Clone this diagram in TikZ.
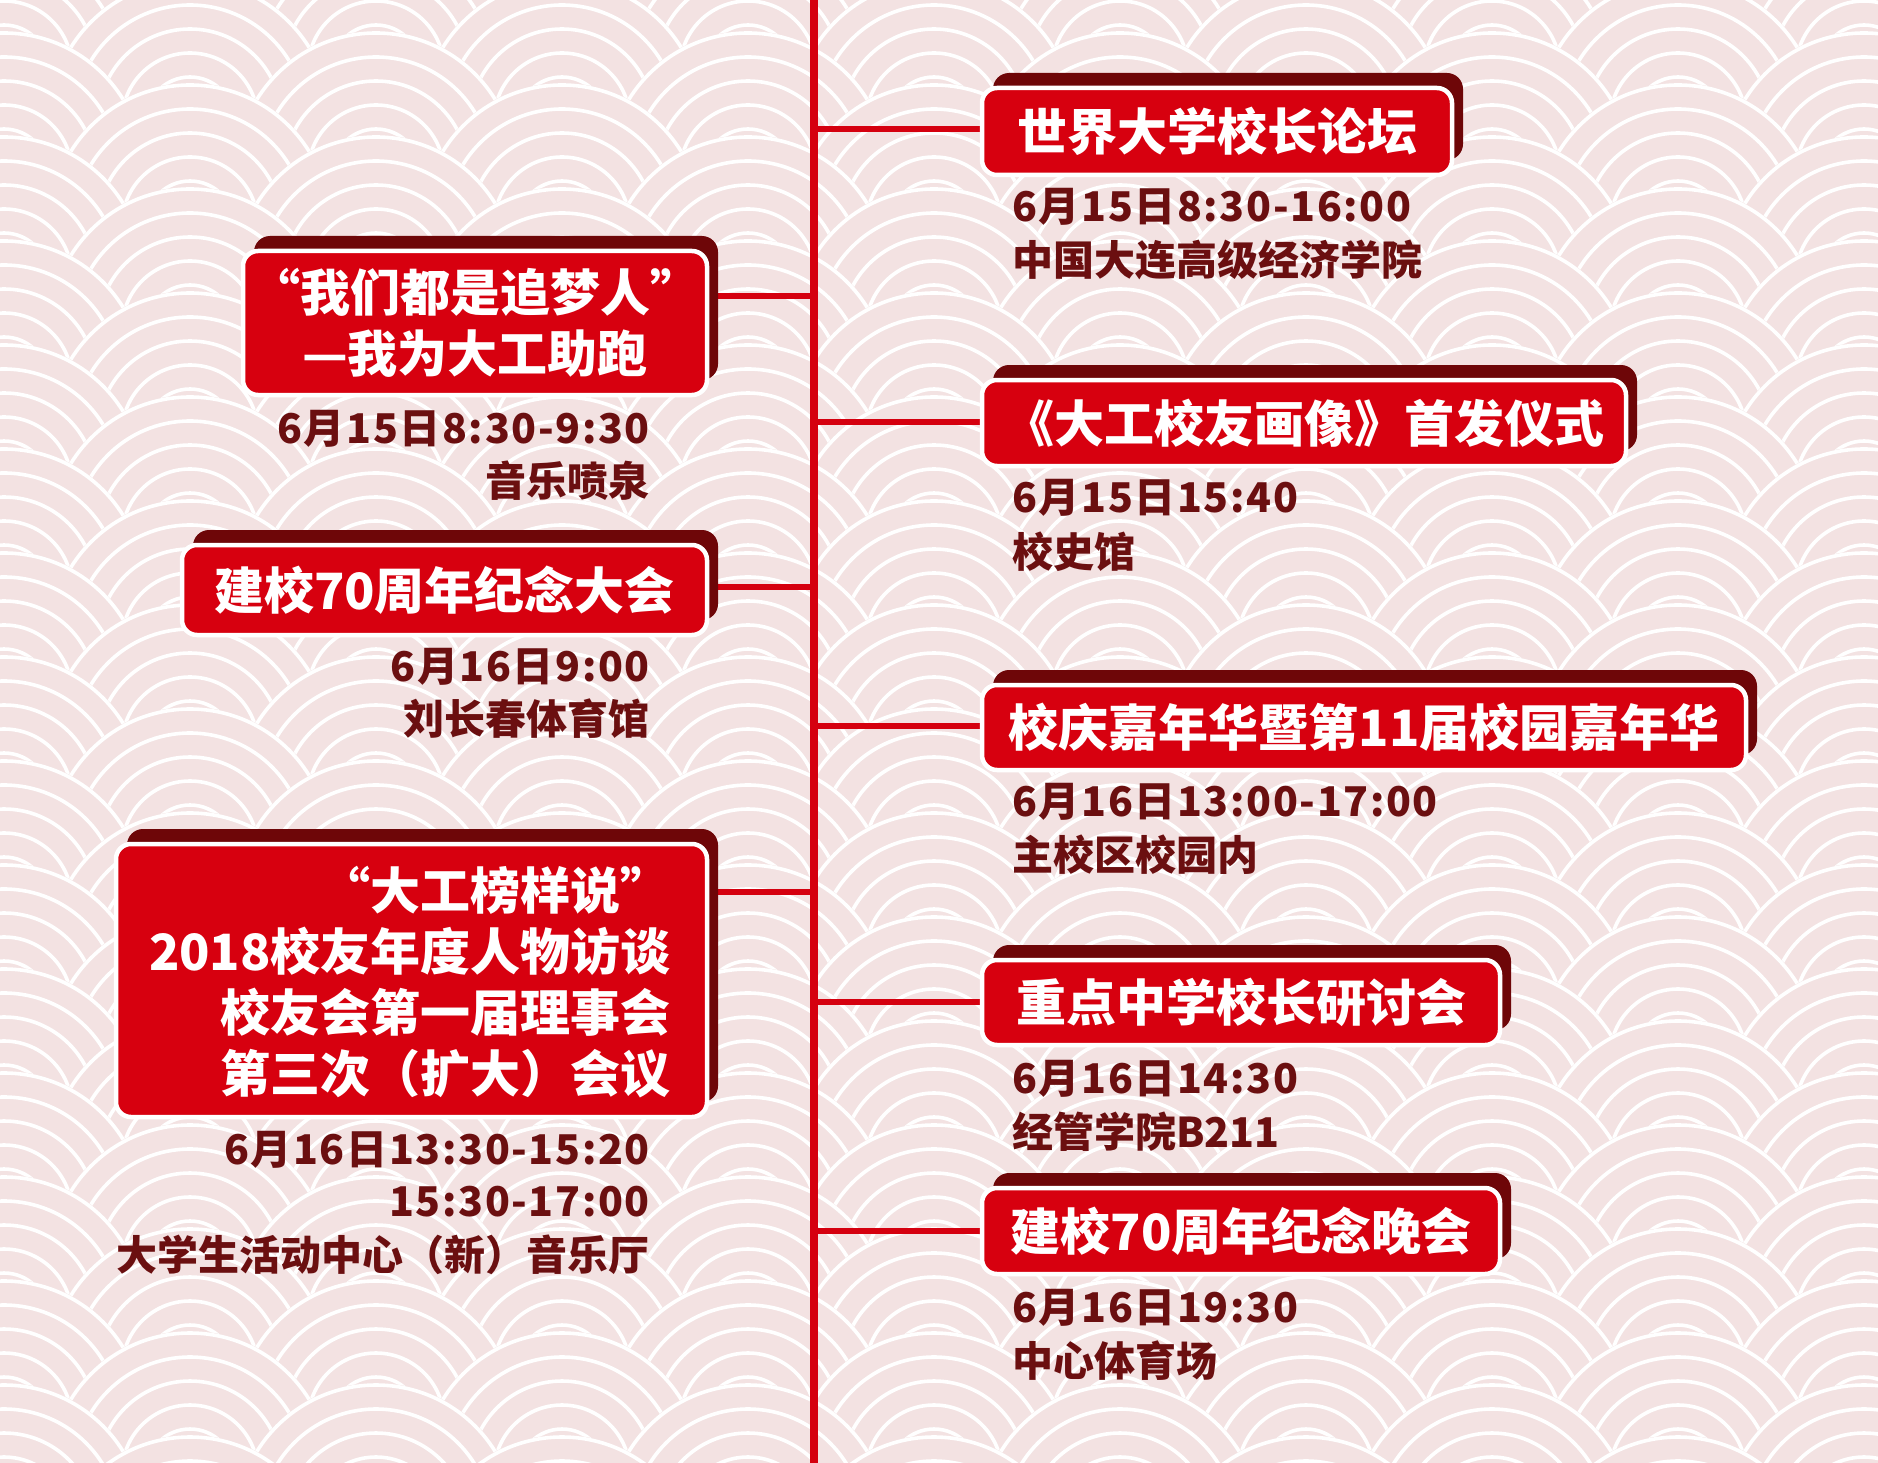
\documentclass[tikz,border=0pt]{standalone}
\usepackage{fontspec}
\newfontfamily\cjk{Noto Sans CJK SC}
\newfontfamily\cjkdate{Noto Sans CJK SC}[LetterSpace=4]
\definecolor{bgpink}{HTML}{F3E2E2}
\definecolor{boxred}{HTML}{D7000F}
\definecolor{backred}{HTML}{6E0608}
\definecolor{txtred}{HTML}{6B0F10}
\definecolor{spinered}{HTML}{D5000F}
\tikzset{
  wave/.style={draw=white, line width=3.6pt},
  frontbox/.style={draw=white, line width=4.5pt, fill=boxred, rounded corners=15pt, inner sep=0pt, outer sep=0pt, anchor=north west},
  backbox/.style={fill=backred, rounded corners=16pt, inner sep=0pt, outer sep=0pt, anchor=north west},
  titletext/.style={text=white, inner sep=0pt, font=\cjk\bfseries\fontsize{50}{61}\selectfont},
  infotext/.style={text=txtred, inner sep=0pt, font=\cjk\bfseries\fontsize{41}{50}\selectfont},
  datetext/.style={text=txtred, inner sep=0pt, font=\cjkdate\bfseries\fontsize{41}{50}\selectfont},
  conn/.style={draw=spinered, line width=6pt},
  spineline/.style={draw=spinered, line width=8pt}
}
\newcommand\evbox[5]{%
  \node[backbox, minimum width={(#4-#2)*1pt}, minimum height={(#5-#3)*1pt}] (#1back) at (#2+11,#3-15) {};
  \node[frontbox, minimum width={(#4-#2)*1pt}, minimum height={(#5-#3)*1pt}] (#1) at (#2,#3) {};
}
\begin{document}
\begin{tikzpicture}[x=1pt, y=-1pt]
\useasboundingbox (0,0) rectangle (1878,1463);
% background seigaiha pattern
\begin{scope}
\clip (0,0) rectangle (1878,1463);
\fill[bgpink] (0,0) rectangle (1878,1463);
\foreach \j in {-7,...,26}{
  \foreach \i in {-2,...,10}{
    \pgfmathtruncatemacro\pp{mod(\i+\j+100,2)}
    \ifnum\pp=0
      \pgfmathsetmacro\cx{190+186*\i}
      \pgfmathsetmacro\cy{225+52*\j}
      \fill[bgpink] (\cx,\cy) circle (142);
      \foreach \r in {140,116,92,68,44}{\draw[wave] (\cx,\cy) circle (\r);}
    \fi
  }
}
\end{scope}
% spine
\coordinate (top) at (814,0);
\coordinate (bot) at (814,1463);
\draw[spineline] (top) -- (bot);
% connector points on spine
\coordinate (s1) at (814,129);
\coordinate (s2) at (814,296);
\coordinate (s3) at (814,587);
\coordinate (s4) at (814,892);
\coordinate (s5) at (814,422);
\coordinate (s6) at (814,726);
\coordinate (s7) at (814,1002);
\coordinate (s8) at (814,1231);
\draw[conn] (s1) -- (990,129);
\draw[conn] (s5) -- (990,422);
\draw[conn] (s6) -- (990,726);
\draw[conn] (s7) -- (990,1002);
\draw[conn] (s8) -- (990,1231);
\draw[conn] (s2) -- (700,296);
\draw[conn] (s3) -- (700,587);
\draw[conn] (s4) -- (700,892);
% boxes
\evbox{b1}{982}{88}{1452}{175}
\evbox{b5}{982}{380}{1626}{466}
\evbox{b6}{982}{685}{1746}{770}
\evbox{b7}{982}{960}{1500}{1045}
\evbox{b8}{982}{1188}{1500}{1274}
\evbox{b2}{243}{251}{707}{395}
\evbox{b3}{182}{545}{707}{635}
\evbox{b4}{116}{844}{707}{1117}
% titles
\node[titletext] (t1) at (b1.center) {世界大学校长论坛};
\node[titletext] (t5) at (b5.center) {《大工校友画像》首发仪式};
\node[titletext] (t6) at (b6.center) {校庆嘉年华暨第11届校园嘉年华};
\node[titletext] (t7) at (b7.center) {重点中学校长研讨会};
\node[titletext] (t8) at (b8.center) {建校70周年纪念晚会};
\node[titletext, align=center] (t2) at (b2.center) {“我们都是追梦人”\\—我为大工助跑};
\node[titletext] (t3) at (b3.center) {建校70周年纪念大会};
\node[titletext, align=right, anchor=east] (t4) at (671,982) {“大工榜样说”\\2018校友年度人物访谈\\校友会第一届理事会\\第三次（扩大）会议};
% info texts right side
\node[datetext, anchor=west] (d1) at (1012,207) {6月15日8:30-16:00};
\node[infotext, anchor=west] (l1) at (1012,260) {中国大连高级经济学院};
\node[datetext, anchor=west] (d5) at (1012,498) {6月15日15:40};
\node[infotext, anchor=west] (l5) at (1012,552) {校史馆};
\node[datetext, anchor=west] (d6) at (1012,802) {6月16日13:00-17:00};
\node[infotext, anchor=west] (l6) at (1012,855) {主校区校园内};
\node[datetext, anchor=west] (d7) at (1012,1079) {6月16日14:30};
\node[infotext, anchor=west] (l7) at (1012,1132) {经管学院B211};
\node[datetext, anchor=west] (d8) at (1012,1308) {6月16日19:30};
\node[infotext, anchor=west] (l8) at (1012,1361) {中心体育场};
% info texts left side
\node[datetext, anchor=east] (d2) at (650,429) {6月15日8:30-9:30};
\node[infotext, anchor=east] (l2) at (650,481) {音乐喷泉};
\node[datetext, anchor=east] (d3) at (650,667) {6月16日9:00};
\node[infotext, anchor=east] (l3) at (650,719) {刘长春体育馆};
\node[datetext, anchor=east] (d4a) at (650,1150) {6月16日13:30-15:20};
\node[datetext, anchor=east] (d4b) at (650,1202) {15:30-17:00};
\node[infotext, anchor=east] (l4) at (650,1255) {大学生活动中心（新）音乐厅};
\end{tikzpicture}
\end{document}
